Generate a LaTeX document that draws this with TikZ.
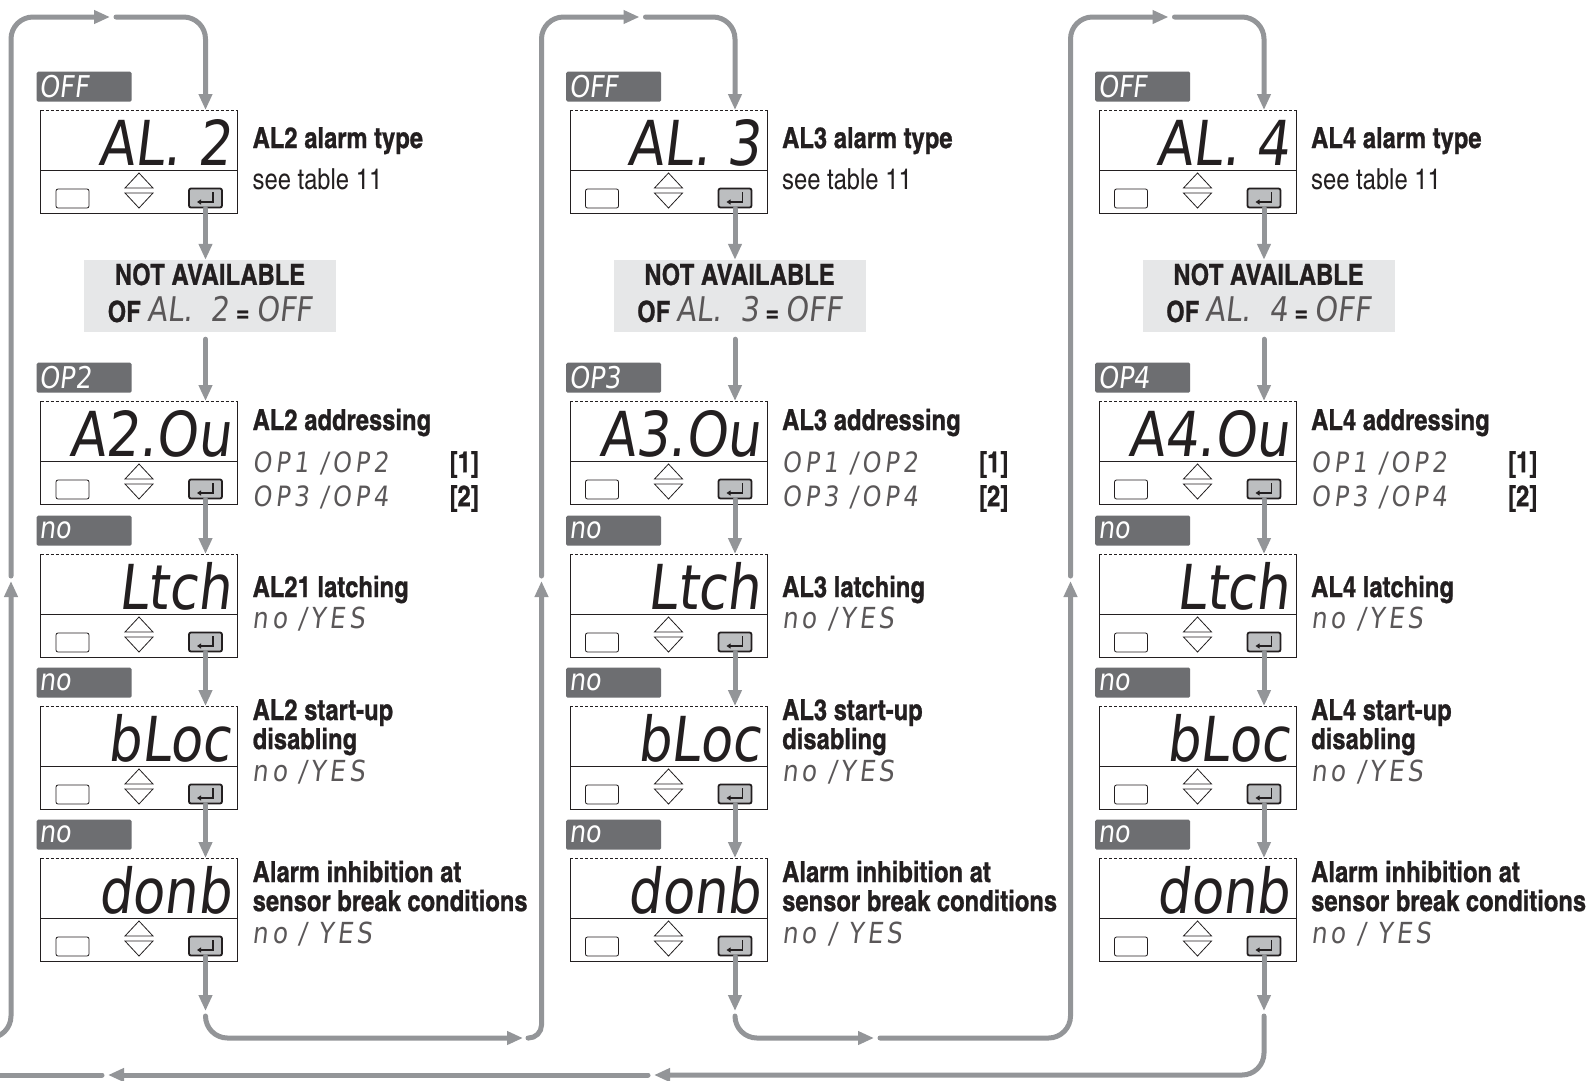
\documentclass[tikz,border=0pt]{standalone}
\usepackage{fontspec}
\setmainfont{texgyreheroscn}[Extension=.otf,UprightFont=*-regular,BoldFont=*-bold,BoldFeatures={FakeBold=0.8}]
\newfontfamily\segfont{DejaVu Sans}[FakeSlant=0.12,FakeStretch=0.85]
\usetikzlibrary{arrows.meta,calc}

\definecolor{flowgray}{HTML}{939598}
\definecolor{taggray}{HTML}{6D6E71}
\definecolor{nagray}{HTML}{E6E7E8}
\definecolor{keygray}{HTML}{BCBEC0}
\definecolor{ink}{HTML}{231F20}

\tikzset{
  flow/.style={draw=flowgray,line width=5pt,line cap=round,rounded corners=22pt,-{Triangle[length=16pt,width=13pt]}},
  frame/.style={draw=ink,line width=1pt},
  disp/.style={anchor=north west,minimum width=197pt,minimum height=103pt,inner sep=0pt,outer sep=0pt},
  tag/.style={anchor=north west,fill=taggray,rounded corners=1.5pt,minimum width=95pt,minimum height=30pt,text width=89pt,inner xsep=3pt,inner ysep=0pt,text=white,font=\segfont\fontsize{30}{30}\selectfont},
  reading/.style={anchor=base east,inner sep=0pt,text=ink,font=\segfont\fontsize{62}{62}\selectfont},
  esckey/.style={draw=ink,line width=0.8pt,rounded corners=2pt,minimum width=33pt,minimum height=19pt,inner sep=0pt},
  okkey/.style={draw=ink,fill=keygray,line width=1.8pt,rounded corners=2pt,minimum width=33pt,minimum height=19pt,inner sep=0pt},
  title/.style={anchor=base west,inner sep=0pt,text=ink,font=\bfseries\fontsize{29}{29}\selectfont},
  note/.style={anchor=base west,inner sep=0pt,text=ink,font=\fontsize{29}{29}\selectfont},
  seg/.style={anchor=base west,inner sep=0pt,text height=21pt,text depth=1pt,text=ink!75,font=\segfont\fontsize{29}{29}\selectfont\addfontfeature{LetterSpace=13}},
  segpair/.style={anchor=north west,align=left,inner sep=0pt,text=ink!75,font=\segfont\fontsize{28}{34}\selectfont\addfontfeature{LetterSpace=14}},
  refpair/.style={anchor=north west,align=left,inner sep=0pt,text=ink,font=\bfseries\fontsize{29}{34}\selectfont},
  nabox/.style={fill=nagray,minimum width=252pt,minimum height=72pt,inner sep=0pt},
}

\newcommand{\segtxt}[1]{{\segfont\mdseries\fontsize{34}{34}\selectfont\color{ink!75}#1}}

% one controller display: name, top, tag text, reading
\newcommand{\dispanel}[4]{%
  \node[tag] (#1-tag) at (36.5,#2-38.5) {#3};
  \node[disp] (#1) at (40.5,#2) {};
  \draw[frame] (#1.north west) -- (#1.south west) -- (#1.south east) -- (#1.north east);
  \draw[frame,dash pattern=on 3pt off 2pt] (#1.north west) -- (#1.north east);
  \draw[frame] ([yshift=-60pt]#1.north west) -- ([yshift=-60pt]#1.north east);
  \node[reading] (#1-val) at (231,#2+55) {#4};
  \node[esckey] (#1-esc) at (72.5,#2+88.5) {};
  \draw[frame,line width=0.8pt] (125,#2+78) -- (139,#2+63) -- (153,#2+78) -- cycle;
  \draw[frame,line width=0.8pt] (125,#2+83) -- (153,#2+83) -- (139,#2+98) -- cycle;
  \node[okkey] (#1-ok) at (205.5,#2+88) {};
  \draw[ink,line width=1.3pt,-{Triangle[length=4pt,width=5pt]}] (213,#2+82) -- (213,#2+92) -- (197,#2+92);
}

\begin{document}
\begin{tikzpicture}[x=1pt,y=-1pt]
  \fill[white] (0,0) rectangle (1590,1080);
  \useasboundingbox (0,0) rectangle (1590,1080);

  % AL2
  \begin{scope}
    \dispanel{a1}{110}{OFF}{AL. 2}
    \node[title] (a1-t) at ([xshift=15pt,yshift=-38pt]a1.north east) {AL2 alarm type};
    \node[note] (a1-n) at ([xshift=15pt,yshift=-79pt]a1.north east) {see table 11};
    \node[nabox] (aNA) at (210,296) {};
    \node[title,anchor=base] (aNA-t) at ([yshift=-25pt]aNA.north) {NOT AVAILABLE};
    \node[title,anchor=base] (aNA-v) at ([yshift=-62pt]aNA.north) {OF \segtxt{AL.\ \ 2} = \segtxt{OFF}};
    \dispanel{a2}{401}{OP2}{A2.Ou}
    \node[title] (a2-t) at ([xshift=15pt,yshift=-29pt]a2.north east) {AL2 addressing};
    \node[segpair] (a2-s) at ([xshift=15pt,yshift=-51pt]a2.north east) {OP1 /OP2\\OP3 /OP4};
    \node[refpair] (a2-r) at ([xshift=212pt,yshift=-50pt]a2.north east) {[1]\\{}[2]};
    \dispanel{a3}{554}{no}{Ltch}
    \node[title] (a3-t) at ([xshift=15pt,yshift=-43pt]a3.north east) {AL21 latching};
    \node[seg] (a3-s) at ([xshift=15pt,yshift=-74pt]a3.north east) {no /YES};
    \dispanel{a4}{706}{no}{bLoc}
    \node[title] (a4-t) at ([xshift=15pt,yshift=-14pt]a4.north east) {AL2 start-up};
    \node[title] (a4-u) at ([xshift=15pt,yshift=-43pt]a4.north east) {disabling};
    \node[seg] (a4-s) at ([xshift=15pt,yshift=-75pt]a4.north east) {no /YES};
    \dispanel{a5}{858}{no}{donb}
    \node[title] (a5-t) at ([xshift=15pt,yshift=-24pt]a5.north east) {Alarm inhibition at};
    \node[title] (a5-u) at ([xshift=15pt,yshift=-53pt]a5.north east) {sensor break conditions};
    \node[seg] (a5-s) at ([xshift=15pt,yshift=-85pt]a5.north east) {no / YES};
    \coordinate (a-up) at (11,576);
    \coordinate (a-top) at (110,17);
    \coordinate (a-out) at (205.5,1011);
  \end{scope}

  % AL3
  \begin{scope}[xshift=529.5pt]
    \dispanel{b1}{110}{OFF}{AL. 3}
    \node[title] (b1-t) at ([xshift=15pt,yshift=-38pt]b1.north east) {AL3 alarm type};
    \node[note] (b1-n) at ([xshift=15pt,yshift=-79pt]b1.north east) {see table 11};
    \node[nabox] (bNA) at (210,296) {};
    \node[title,anchor=base] (bNA-t) at ([yshift=-25pt]bNA.north) {NOT AVAILABLE};
    \node[title,anchor=base] (bNA-v) at ([yshift=-62pt]bNA.north) {OF \segtxt{AL.\ \ 3} = \segtxt{OFF}};
    \dispanel{b2}{401}{OP3}{A3.Ou}
    \node[title] (b2-t) at ([xshift=15pt,yshift=-29pt]b2.north east) {AL3 addressing};
    \node[segpair] (b2-s) at ([xshift=15pt,yshift=-51pt]b2.north east) {OP1 /OP2\\OP3 /OP4};
    \node[refpair] (b2-r) at ([xshift=212pt,yshift=-50pt]b2.north east) {[1]\\{}[2]};
    \dispanel{b3}{554}{no}{Ltch}
    \node[title] (b3-t) at ([xshift=15pt,yshift=-43pt]b3.north east) {AL3 latching};
    \node[seg] (b3-s) at ([xshift=15pt,yshift=-74pt]b3.north east) {no /YES};
    \dispanel{b4}{706}{no}{bLoc}
    \node[title] (b4-t) at ([xshift=15pt,yshift=-14pt]b4.north east) {AL3 start-up};
    \node[title] (b4-u) at ([xshift=15pt,yshift=-43pt]b4.north east) {disabling};
    \node[seg] (b4-s) at ([xshift=15pt,yshift=-75pt]b4.north east) {no /YES};
    \dispanel{b5}{858}{no}{donb}
    \node[title] (b5-t) at ([xshift=15pt,yshift=-24pt]b5.north east) {Alarm inhibition at};
    \node[title] (b5-u) at ([xshift=15pt,yshift=-53pt]b5.north east) {sensor break conditions};
    \node[seg] (b5-s) at ([xshift=15pt,yshift=-85pt]b5.north east) {no / YES};
    \coordinate (b-up) at (12,576);
    \coordinate (b-top) at (110,17);
    \coordinate (b-out) at (205.5,1011);
  \end{scope}

  % AL4
  \begin{scope}[xshift=1058.5pt]
    \dispanel{c1}{110}{OFF}{AL. 4}
    \node[title] (c1-t) at ([xshift=15pt,yshift=-38pt]c1.north east) {AL4 alarm type};
    \node[note] (c1-n) at ([xshift=15pt,yshift=-79pt]c1.north east) {see table 11};
    \node[nabox] (cNA) at (210,296) {};
    \node[title,anchor=base] (cNA-t) at ([yshift=-25pt]cNA.north) {NOT AVAILABLE};
    \node[title,anchor=base] (cNA-v) at ([yshift=-62pt]cNA.north) {OF \segtxt{AL.\ \ 4} = \segtxt{OFF}};
    \dispanel{c2}{401}{OP4}{A4.Ou}
    \node[title] (c2-t) at ([xshift=15pt,yshift=-29pt]c2.north east) {AL4 addressing};
    \node[segpair] (c2-s) at ([xshift=15pt,yshift=-51pt]c2.north east) {OP1 /OP2\\OP3 /OP4};
    \node[refpair] (c2-r) at ([xshift=212pt,yshift=-50pt]c2.north east) {[1]\\{}[2]};
    \dispanel{c3}{554}{no}{Ltch}
    \node[title] (c3-t) at ([xshift=15pt,yshift=-43pt]c3.north east) {AL4 latching};
    \node[seg] (c3-s) at ([xshift=15pt,yshift=-74pt]c3.north east) {no /YES};
    \dispanel{c4}{706}{no}{bLoc}
    \node[title] (c4-t) at ([xshift=15pt,yshift=-14pt]c4.north east) {AL4 start-up};
    \node[title] (c4-u) at ([xshift=15pt,yshift=-43pt]c4.north east) {disabling};
    \node[seg] (c4-s) at ([xshift=15pt,yshift=-75pt]c4.north east) {no /YES};
    \dispanel{c5}{858}{no}{donb}
    \node[title] (c5-t) at ([xshift=15pt,yshift=-24pt]c5.north east) {Alarm inhibition at};
    \node[title] (c5-u) at ([xshift=15pt,yshift=-53pt]c5.north east) {sensor break conditions};
    \node[seg] (c5-s) at ([xshift=15pt,yshift=-85pt]c5.north east) {no / YES};
    \coordinate (c-up) at (12,576);
    \coordinate (c-top) at (110,17);
    \coordinate (c-out) at (205.5,1011);
  \end{scope}

  % free ends of the loops
  \coordinate (a-in) at (-12,1038);
  \coordinate (ab-tip) at (523,1038);
  \coordinate (bc-tip) at (874,1038);
  \coordinate (ret-tip) at (654,1075);
  \coordinate (ret-end) at (108,1075);
  \coordinate (ret-off) at (-12,1075);

  % arrows down each column
  \draw[flow] (a-up) |- (a-top);
  \draw[flow] ([xshift=6pt]a-top) -| (a1-ok |- a1.north);
  \draw[flow] (a1-ok.south) -- (a1-ok |- aNA.north);
  \draw[flow] ([yshift=-7pt]a1-ok |- aNA.south) -- (a2-ok |- a2.north);
  \draw[flow] (a2-ok.south) -- (a2-ok |- a3.north);
  \draw[flow] (a3-ok.south) -- (a3-ok |- a4.north);
  \draw[flow] (a4-ok.south) -- (a4-ok |- a5.north);
  \draw[flow] (a5-ok.south) -- (a-out);

  \draw[flow] (b-up) |- (b-top);
  \draw[flow] ([xshift=6pt]b-top) -| (b1-ok |- b1.north);
  \draw[flow] (b1-ok.south) -- (b1-ok |- bNA.north);
  \draw[flow] ([yshift=-7pt]b1-ok |- bNA.south) -- (b2-ok |- b2.north);
  \draw[flow] (b2-ok.south) -- (b2-ok |- b3.north);
  \draw[flow] (b3-ok.south) -- (b3-ok |- b4.north);
  \draw[flow] (b4-ok.south) -- (b4-ok |- b5.north);
  \draw[flow] (b5-ok.south) -- (b-out);

  \draw[flow] (c-up) |- (c-top);
  \draw[flow] ([xshift=6pt]c-top) -| (c1-ok |- c1.north);
  \draw[flow] (c1-ok.south) -- (c1-ok |- cNA.north);
  \draw[flow] ([yshift=-7pt]c1-ok |- cNA.south) -- (c2-ok |- c2.north);
  \draw[flow] (c2-ok.south) -- (c2-ok |- c3.north);
  \draw[flow] (c3-ok.south) -- (c3-ok |- c4.north);
  \draw[flow] (c4-ok.south) -- (c4-ok |- c5.north);
  \draw[flow] (c5-ok.south) -- (c-out);

  % links between the columns
  \draw[flow] (a-in) -| ([yshift=-5pt]a-up);
  \draw[flow] ([yshift=-5pt]a-out) |- (ab-tip);
  \draw[flow,rounded corners=13pt] ([xshift=5pt]ab-tip) -| ([yshift=-5pt]b-up);
  \draw[flow] ([yshift=-5pt]b-out) |- (bc-tip);
  \draw[flow] ([xshift=6pt]bc-tip) -| ([yshift=-5pt]c-up);
  \draw[flow] ([yshift=-5pt]c-out) |- (ret-tip);
  \draw[flow] ([xshift=-6pt]ret-tip) -- (ret-end);
  \draw[flow,-] ([xshift=-6pt]ret-end) -- (ret-off);
\end{tikzpicture}
\end{document}
